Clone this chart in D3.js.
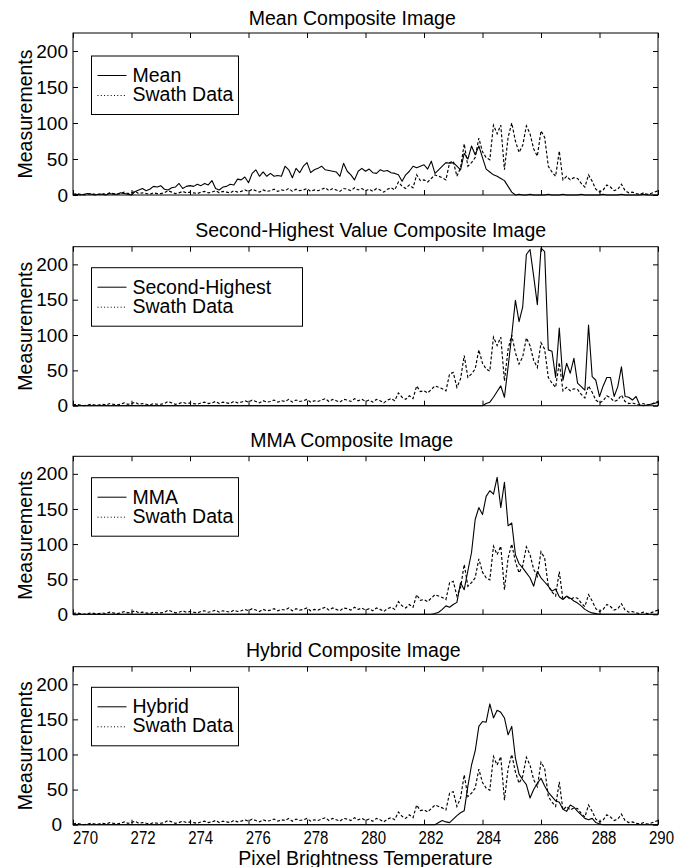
<!DOCTYPE html>
<html>
<head>
<meta charset="utf-8">
<script src="https://cdn.jsdelivr.net/npm/d3@7"></script>
<style>
  body { margin: 0; background: #fff; }
  svg text { font-family: "Liberation Sans", Arial, Helvetica, sans-serif; fill: #000; }
</style>
</head>
<body>
<svg id="chart" width="690" height="867"></svg>
<script>
// ---------------- DATA ----------------
// Histogram bins: 270 K .. 290 K, bin width 0.125 K (161 bins)
const binStart = 270;
const binWidth = 0.125;

const swathData = [
  1,2,1,0,1,2,1,1,   2,1,3,2,1,2,4,2,   3,5,2,3,2,1,3,2,   2,3,6,4,2,3,5,3,
  4,3,2,4,5,3,4,6,   3,5,4,3,6,4,5,7,   5,8,6,4,7,5,6,8,   5,7,6,9,5,8,6,7,
  9,5,7,6,8,10,6,9,  7,5,9,8,6,10,7,9,  6,8,5,9,7,4,8,10,  7,18,12,9,14,10,28,20,
  21,18,23,28,26,24,21,45,  47,26,38,71,40,45,52,79,  60,52,49,97,85,97,35,80,
  100,75,59,69,96,85,64,54, 89,80,40,32,26,61,21,26,  21,24,23,16,11,28,19,8,
  4,7,14,11,6,8,15,6,  3,4,2,1,3,1,2,4,  6
];

const meanData = [
  0,1,0,1,2,1,0,1,   1,0,2,1,1,3,2,1,   0,5,7,9,6,8,12,11,  13,8,7,10,11,16,9,12,
  13,12,15,13,16,14,20,9,  7,11,12,15,14,22,21,25,  17,30,35,26,32,26,30,26,
  27,26,40,35,24,37,31,40, 45,31,35,37,40,35,34,33,  32,26,44,33,28,21,33,37,
  33,36,31,30,35,33,34,31, 30,28,19,28,33,40,38,40,  42,36,47,30,35,40,45,44,
  45,40,35,58,50,68,56,68, 52,36,32,28,26,23,20,12,  4,0,1,0,0,1,0,0,
  0,0,1,0,0,0,1,0,   0,0,0,1,0,0,0,0,   0,1,0,0,0,0,1,0,   0,0,0,0,1,0,0,0,  0
];

const secondHighestData = [
  0,0,0,0,0,0,0,0, 0,0,0,0,0,0,0,0, 0,0,0,0,0,0,0,0, 0,0,0,0,0,0,0,0,
  0,0,0,0,0,0,0,0, 0,0,0,0,0,0,0,0, 0,0,0,0,0,0,0,0, 0,0,0,0,0,0,0,0,
  0,0,0,0,0,0,0,0, 0,0,0,0,0,0,0,0, 0,0,0,0,0,0,0,0, 0,0,0,0,0,0,0,0,
  0,0,0,0,0,0,0,0, 0,0,0,0,0,0,0,0,
  0,3,5,12,20,28,12,55,
  100,149,119,140,214,221,183,143,
  223,218,79,77,40,110,36,60,
  46,67,32,27,22,114,41,36,
  13,28,40,40,13,27,55,13,
  12,8,13,1,0,1,2,3,  5
];

const mmaData = [
  0,0,0,0,0,0,0,0, 0,0,0,0,0,0,0,0, 0,0,0,0,0,0,0,0, 0,0,0,0,0,0,0,0,
  0,0,0,0,0,0,0,0, 0,0,0,0,0,0,0,0, 0,0,0,0,0,0,0,0, 0,0,0,0,0,0,0,0,
  0,0,0,0,0,0,0,0, 0,0,0,0,0,0,0,0, 0,0,0,0,0,0,0,0, 0,0,0,0,0,0,0,0,
  0,0,
  0,1,3,7,12,10,
  14,17,45,35,62,88,135,152,
  142,168,176,171,195,152,188,126,
  130,85,72,66,59,52,40,61,
  52,46,40,33,36,25,21,26,
  23,19,16,12,7,4,2,1,
  0,0,0,0,0,0,0,0, 0,0,0,0,0,0,0,0, 0
];

const hybridData = [
  0,0,0,0,0,0,0,0, 0,0,0,0,0,0,0,0, 0,0,0,0,0,0,0,0, 0,0,0,0,0,0,0,0,
  0,0,0,0,0,0,0,0, 0,0,0,0,0,0,0,0, 0,0,0,0,0,0,0,0, 0,0,0,0,0,0,0,0,
  0,0,0,0,0,0,0,0, 0,0,0,0,0,0,0,0, 0,0,0,0,0,0,0,0, 0,0,0,0,0,0,0,0,
  0,0,0,
  0,3,6,4,3,
  8,13,17,20,55,85,105,140,
  147,146,172,152,163,160,152,128,
  140,95,72,64,57,38,50,59,
  66,55,46,40,34,32,22,19,
  28,25,19,14,9,7,9,3,
  1,0,0,0,0,0,0,0, 0,0,0,0,0,0,0,0, 0
];

const panelTitles = [
  "Mean Composite Image",
  "Second-Highest Value Composite Image",
  "MMA Composite Image",
  "Hybrid Composite Image"
];
const legendNames = ["Mean", "Second-Highest", "MMA", "Hybrid"];
const swathName = "Swath Data";
const xTicks = [270, 272, 274, 276, 278, 280, 282, 284, 286, 288, 290];
const yTicks = [0, 50, 100, 150, 200];
const xLabel = "Pixel Brightness Temperature";
const yLabel = "Measurements";

// ---------------- LAYOUT ----------------
const svg = d3.select("#chart");
const plotLeft = 73, plotRight = 658;
const layout = [
  { top: 33,    bottom: 195,   titleCx: 352.3, titleY: 25,    legTop: 56,    legW: 147 },
  { top: 246.7, bottom: 405.7, titleCx: 370.7, titleY: 236.7, legTop: 267.7, legW: 211 },
  { top: 456.3, bottom: 614.3, titleCx: 351.7, titleY: 447,   legTop: 477.7, legW: 147 },
  { top: 666.7, bottom: 824.7, titleCx: 353.3, titleY: 657,   legTop: 687.3, legW: 147 }
];
const seriesList = [meanData, secondHighestData, mmaData, hybridData];
const temps = swathData.map((_, i) => binStart + i * binWidth);

const x = d3.scaleLinear().domain([270, 290]).range([plotLeft, plotRight]);
const FS = 19.5;

layout.forEach((L, k) => {
  const y = d3.scaleLinear().domain([0, 225]).range([L.bottom, L.top]);
  const g = svg.append("g");

  // data lines
  const line = d3.line().x((d, i) => x(temps[i])).y(d => y(d));
  g.append("path").datum(swathData)
    .attr("d", line).attr("fill", "none").attr("stroke", "#000")
    .attr("stroke-width", 1.15).attr("stroke-dasharray", "3,2");
  g.append("path").datum(seriesList[k])
    .attr("d", line).attr("fill", "none").attr("stroke", "#000")
    .attr("stroke-width", 1.1).attr("stroke-linejoin", "round");

  // frame
  g.append("rect").attr("x", plotLeft).attr("y", L.top)
    .attr("width", plotRight - plotLeft).attr("height", L.bottom - L.top)
    .attr("fill", "none").attr("stroke", "#000").attr("stroke-width", 1);

  // axes (inward ticks)
  const ax = (sel) => { sel.select(".domain").remove(); sel.selectAll("line").attr("stroke", "#000"); };
  const yl = g.append("g").attr("transform", `translate(${plotLeft},0)`)
    .call(d3.axisLeft(y).tickValues(yTicks).tickSize(-5).tickPadding(5).tickFormat(d3.format("d")))
    .call(ax);
  yl.selectAll("text").attr("font-size", 19).attr("font-family", "Liberation Sans, Arial, sans-serif")
    .attr("dx", d => (k === 3 && d === 0) ? -6 : 0);
  g.append("g").attr("transform", `translate(${plotRight},0)`)
    .call(d3.axisRight(y).tickValues(yTicks).tickSize(-5).tickFormat(""))
    .call(ax);
  g.append("g").attr("transform", `translate(0,${L.top})`)
    .call(d3.axisTop(x).tickValues(xTicks).tickSize(-5).tickFormat(""))
    .call(ax);
  const xb = g.append("g").attr("transform", `translate(0,${L.bottom})`)
    .call(d3.axisBottom(x).tickValues(xTicks).tickSize(-5).tickPadding(6)
      .tickFormat(k === 3 ? d3.format("d") : ""))
    .call(ax);
  xb.selectAll("text")
    .attr("font-size", 19).attr("font-family", "Liberation Sans, Arial, sans-serif")
    .attr("dx", d => 12 - 0.45 * (d - 270))
    .attr("textLength", 25).attr("lengthAdjust", "spacingAndGlyphs");

  // title
  g.append("text").attr("x", L.titleCx).attr("y", L.titleY)
    .attr("text-anchor", "middle").attr("font-size", FS).text(panelTitles[k]);

  // y label
  g.append("text")
    .attr("transform", `translate(32,${(L.top + L.bottom) / 2}) rotate(-90)`)
    .attr("text-anchor", "middle").attr("font-size", FS).text(yLabel);

  // legend
  const lx = 91.5, ly = L.legTop;
  g.append("rect").attr("x", lx).attr("y", ly).attr("width", L.legW).attr("height", 58.5)
    .attr("fill", "#fff").attr("stroke", "#000").attr("stroke-width", 1);
  g.append("line").attr("x1", lx + 6).attr("x2", lx + 35).attr("y1", ly + 19.5).attr("y2", ly + 19.5)
    .attr("stroke", "#000").attr("stroke-width", 1);
  g.append("line").attr("x1", lx + 6).attr("x2", lx + 35).attr("y1", ly + 39.5).attr("y2", ly + 39.5)
    .attr("stroke", "#000").attr("stroke-width", 1).attr("stroke-dasharray", "1,2.3");
  g.append("text").attr("x", lx + 41).attr("y", ly + 26).attr("font-size", FS).text(legendNames[k]);
  g.append("text").attr("x", lx + 41).attr("y", ly + 45).attr("font-size", FS).text(swathName);
});

// x label
svg.append("text").attr("x", (plotLeft + plotRight) / 2).attr("y", 864.5)
  .attr("text-anchor", "middle").attr("font-size", FS).text(xLabel);
</script>
</body>
</html>
